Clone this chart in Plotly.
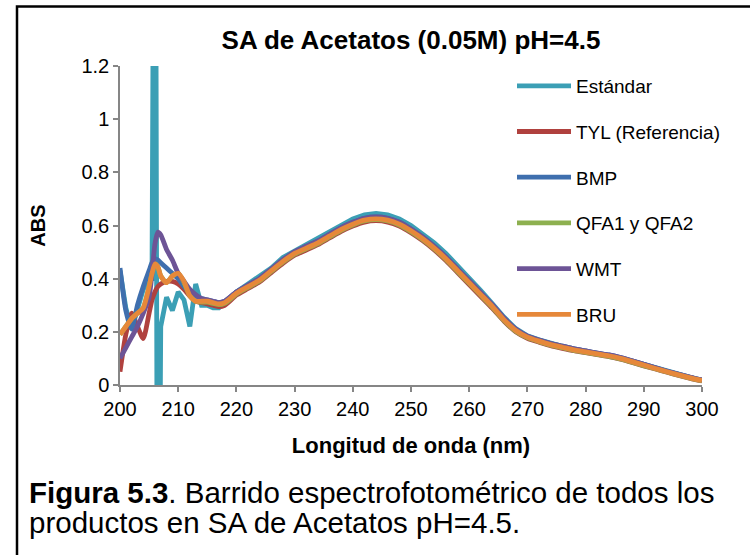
import plotly.graph_objects as go

# Wavelength (nm)
wavelength = [200, 201, 202, 203, 204, 205, 205.5, 206, 206.5, 207, 208, 209, 210, 211, 212, 213, 214, 215, 216, 217, 218,
              220, 222, 224, 226, 228, 230, 232, 234, 236, 238, 240, 242, 244, 246, 248, 250, 252, 254, 256, 258,
              260, 262, 264, 266, 268, 270, 272, 274, 276, 278, 280, 282, 284, 286, 288, 290, 292, 294, 296, 298, 300]

estandar = [0.43, 0.29, 0.21, 0.29, 0.36, 0.40, 0.40, 3.0, -1.5, 0.22, 0.33, 0.28, 0.35, 0.32, 0.22, 0.38, 0.30, 0.30, 0.29, 0.29, 0.31,
            0.35, 0.38, 0.41, 0.44, 0.48, 0.505, 0.53, 0.555, 0.575, 0.60, 0.625, 0.64, 0.645, 0.64, 0.625, 0.60, 0.57, 0.535, 0.495, 0.45,
            0.405, 0.355, 0.305, 0.255, 0.212, 0.185, 0.17, 0.157, 0.146, 0.136, 0.128, 0.12, 0.112, 0.102, 0.09, 0.077, 0.064, 0.052, 0.04, 0.029, 0.018]

tyl = [0.05, 0.19, 0.27, 0.22, 0.175, 0.27, 0.32, 0.35, 0.37, 0.38, 0.39, 0.39, 0.38, 0.36, 0.335, 0.315, 0.31, 0.305, 0.30, 0.295, 0.30,
       0.338, 0.363, 0.388, 0.423, 0.458, 0.488, 0.508, 0.528, 0.553, 0.578, 0.598, 0.613, 0.618, 0.613, 0.598, 0.573, 0.543, 0.508, 0.468, 0.423,
       0.378, 0.333, 0.288, 0.24, 0.2, 0.176, 0.161, 0.148, 0.138, 0.129, 0.122, 0.114, 0.107, 0.097, 0.085, 0.072, 0.06, 0.048, 0.036, 0.025, 0.015]

bmp = [0.44, 0.28, 0.21, 0.30, 0.37, 0.43, 0.46, 0.475, 0.47, 0.46, 0.44, 0.42, 0.40, 0.37, 0.35, 0.335, 0.325, 0.32, 0.315, 0.31, 0.315,
       0.35, 0.376, 0.401, 0.436, 0.471, 0.501, 0.522, 0.542, 0.567, 0.592, 0.612, 0.627, 0.632, 0.627, 0.612, 0.587, 0.557, 0.522, 0.482, 0.437,
       0.392, 0.347, 0.301, 0.251, 0.21, 0.184, 0.169, 0.156, 0.146, 0.136, 0.128, 0.12, 0.113, 0.103, 0.091, 0.078, 0.065, 0.052, 0.04, 0.029, 0.019]

qfa = [0.19, 0.22, 0.25, 0.27, 0.29, 0.37, 0.42, 0.455, 0.445, 0.41, 0.385, 0.41, 0.42, 0.385, 0.335, 0.315, 0.312, 0.312, 0.307, 0.302, 0.307,
       0.342, 0.367, 0.392, 0.427, 0.462, 0.492, 0.512, 0.532, 0.557, 0.582, 0.602, 0.617, 0.622, 0.617, 0.602, 0.577, 0.547, 0.512, 0.472, 0.427,
       0.382, 0.337, 0.292, 0.242, 0.202, 0.178, 0.163, 0.15, 0.14, 0.13, 0.123, 0.115, 0.108, 0.098, 0.086, 0.073, 0.061, 0.049, 0.037, 0.026, 0.016]

wmt = [0.10, 0.14, 0.18, 0.22, 0.27, 0.33, 0.42, 0.53, 0.575, 0.565, 0.51, 0.47, 0.42, 0.39, 0.36, 0.34, 0.325, 0.32, 0.315, 0.31, 0.315,
       0.35, 0.376, 0.401, 0.436, 0.471, 0.501, 0.522, 0.542, 0.567, 0.592, 0.612, 0.627, 0.632, 0.627, 0.612, 0.587, 0.557, 0.522, 0.482, 0.437,
       0.392, 0.347, 0.301, 0.251, 0.21, 0.184, 0.169, 0.156, 0.146, 0.136, 0.128, 0.12, 0.113, 0.103, 0.091, 0.078, 0.065, 0.052, 0.04, 0.029, 0.019]

bru = [0.19, 0.22, 0.25, 0.27, 0.29, 0.37, 0.42, 0.455, 0.445, 0.41, 0.385, 0.41, 0.42, 0.39, 0.335, 0.315, 0.315, 0.315, 0.31, 0.305, 0.31,
       0.345, 0.37, 0.395, 0.43, 0.465, 0.495, 0.515, 0.535, 0.56, 0.585, 0.605, 0.62, 0.625, 0.62, 0.605, 0.58, 0.55, 0.515, 0.475, 0.43,
       0.385, 0.34, 0.295, 0.245, 0.205, 0.18, 0.165, 0.152, 0.142, 0.132, 0.125, 0.117, 0.11, 0.1, 0.088, 0.075, 0.062, 0.05, 0.038, 0.027, 0.017]

series_names = ["Estándar", "TYL (Referencia)", "BMP", "QFA1 y QFA2", "WMT", "BRU"]
series_values = [estandar, tyl, bmp, qfa, wmt, bru]
series_colors = ["#3B9FB5", "#B0413E", "#3F6FAE", "#8DB04F", "#6D5496", "#E6883A"]

caption_lines = ["<b>Figura 5.3</b>. Barrido espectrofotométrico de todos los",
                 "productos en SA de Acetatos pH=4.5."]

FONT = "Arial, 'Liberation Sans', sans-serif"

fig = go.Figure()
for i, (name, vals, col) in enumerate(zip(series_names, series_values, series_colors)):
    fig.add_trace(go.Scatter(
        x=wavelength, y=vals, name=name, mode="lines",
        line=dict(color=col, width=4.8, shape="linear" if i == 0 else "spline", smoothing=0.6),
        legendgroup=f"g{i}",
    ))

axis_col = "#868686"
fig.update_layout(
    width=750, height=555,
    margin=dict(l=120, r=48, t=66, b=170),
    paper_bgcolor="white", plot_bgcolor="white",
    font=dict(family=FONT, color="black", size=19),
    title=dict(text="<b>SA de Acetatos (0.05M) pH=4.5</b>", x=(120 + 291) / 750, xanchor="center",
               y=1 - 40 / 555, yanchor="middle", yref="container",
               font=dict(family=FONT, size=26, color="black")),
    showlegend=True,
    legend=dict(x=(512 - 120) / 582, y=0.997, xanchor="left", yanchor="top", tracegroupgap=18,
                font=dict(family=FONT, size=19, color="black"), bgcolor="rgba(0,0,0,0)",
                itemwidth=54),
    xaxis=dict(range=[200, 300], dtick=10, tick0=200, showgrid=False, zeroline=False,
               showline=True, linecolor=axis_col, linewidth=1.5,
               ticks="outside", ticklen=5, tickcolor=axis_col, tickwidth=1.5,
               tickfont=dict(size=20, family=FONT, color="black"),
               title=dict(text="<b>Longitud de onda (nm)</b>", font=dict(size=22, family=FONT, color="black"), standoff=19)),
    yaxis=dict(range=[0, 1.2], dtick=0.2, showgrid=False, zeroline=False,
               showline=True, linecolor=axis_col, linewidth=1.5,
               ticks="outside", ticklen=5, tickcolor=axis_col, tickwidth=1.5,
               tickfont=dict(size=20, family=FONT, color="black"),
               title=dict(text="<b>ABS</b>", font=dict(size=20, family=FONT, color="black"), standoff=30)),
)

# caption (two lines)
for k, line in enumerate(caption_lines):
    fig.add_annotation(
        xref="paper", yref="paper", x=(27 - 120) / 582, y=(385 - (492 + 30 * k)) / 319,
        xanchor="left", yanchor="middle", align="left", showarrow=False,
        text=line, font=dict(family=FONT, size=29.5, color="black"),
    )

# outer frame
fig.add_shape(type="rect", xref="paper", yref="paper",
              x0=(17 - 120) / 582, y0=(385 - 600) / 319, x1=(800 - 120) / 582, y1=(385 - 6.5) / 319,
              line=dict(color="black", width=2.5), fillcolor="rgba(0,0,0,0)", layer="above")

fig.write_html("out.html")
